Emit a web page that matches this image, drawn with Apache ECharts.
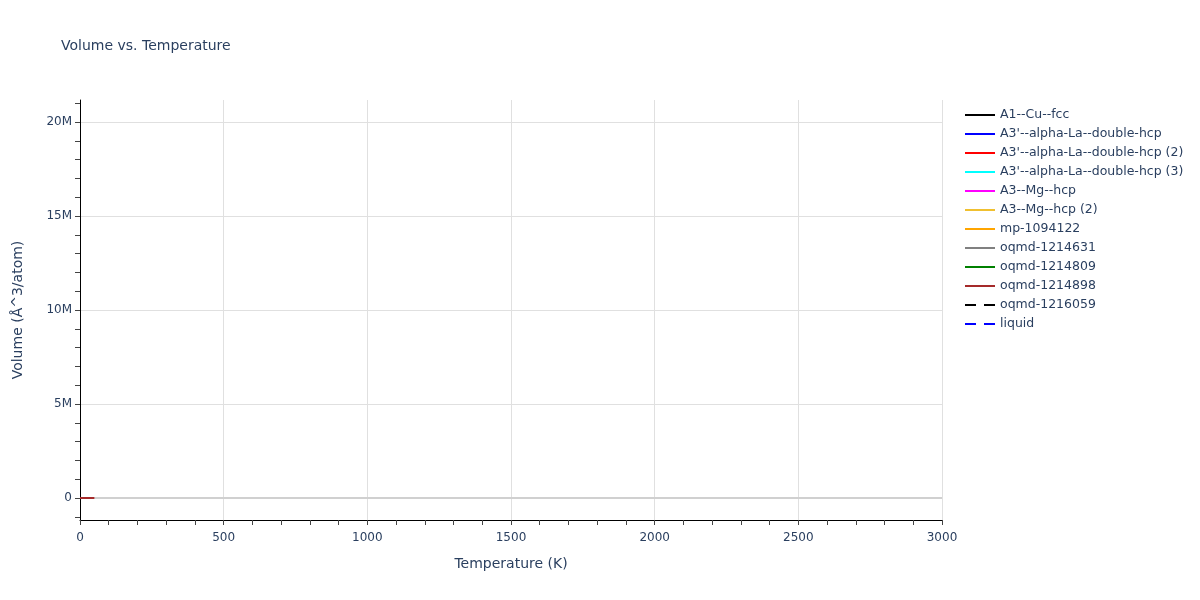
<!DOCTYPE html>
<html>
<head>
<meta charset="utf-8">
<script src="https://cdn.jsdelivr.net/npm/echarts@6/dist/echarts.min.js"></script>
<style>html,body{margin:0;padding:0;background:#fff}#c{width:1200px;height:600px}</style>
</head>
<body>
<div id="c"></div>
<script>
// ---- data ----
const seriesNames = ["A1--Cu--fcc","A3'--alpha-La--double-hcp","A3'--alpha-La--double-hcp (2)","A3'--alpha-La--double-hcp (3)","A3--Mg--hcp","A3--Mg--hcp (2)","mp-1094122","oqmd-1214631","oqmd-1214809","oqmd-1214898","oqmd-1216059","liquid"];
const seriesColors = ["#000000","#0000ff","#ff0000","#00ffff","#ff00ff","#f0c030","#ffa500","#808080","#008000","#a52a2a","#000000","#0000ff"];
const seriesDashed = [false,false,false,false,false,false,false,false,false,false,true,true];
// temperatures (K) sampled in the visible short segment
const temps = [0, 10, 20, 30, 40, 50];
// volumes (Å^3/atom) — all tiny compared with the axis scale
const volA1 = [16.4, 16.4, 16.4, 16.5, 16.5, 16.5];
const volLa1 = [37.2, 37.2, 37.2, 37.3, 37.3, 37.3];
const volLa2 = [36.8, 36.8, 36.8, 36.9, 36.9, 36.9];
const volLa3 = [36.5, 36.5, 36.5, 36.6, 36.6, 36.6];
const volMg1 = [23.1, 23.1, 23.1, 23.2, 23.2, 23.2];
const volMg2 = [23.4, 23.4, 23.4, 23.5, 23.5, 23.5];
const volMp = [30.2, 30.2, 30.2, 30.3, 30.3, 30.3];
const vol631 = [28.7, 28.7, 28.7, 28.8, 28.8, 28.8];
const vol809 = [27.9, 27.9, 27.9, 28.0, 28.0, 28.0];
const vol898 = [29.4, 29.4, 29.4, 29.5, 29.5, 29.5];
const vol059 = [];
const volLiquid = [];
const seriesValues = [volA1, volLa1, volLa2, volLa3, volMg1, volMg2, volMp, vol631, vol809, vol898, vol059, volLiquid];
// axis ranges / ticks
const xTicks = [0, 500, 1000, 1500, 2000, 2500, 3000];
const yTicks = [0, 5e6, 10e6, 15e6, 20e6];
const yMinorTicks = [-1e6, 0, 1e6, 2e6, 3e6, 4e6, 5e6, 6e6, 7e6, 8e6, 9e6, 10e6, 11e6, 12e6, 13e6, 14e6, 15e6, 16e6, 17e6, 18e6, 19e6, 20e6, 21e6];
const yRange = [-1170000, 21170000];

const FONT = "DejaVu Sans, Verdana, sans-serif";
const TXT = "#2a3f5f";
const SOLID_ICON = 'path://M0,0h30v2h-30z';
const DASH_ICON = 'path://M0,0h11v2h-11z M19,0h11v2h-11z';

const series = seriesNames.map((n, i) => {
  const s = {
    name: n,
    type: 'line',
    symbol: 'none',
    showSymbol: false,
    data: seriesValues[i].map((v, k) => [temps[k], v]),
    lineStyle: { color: seriesColors[i], width: 2, type: seriesDashed[i] ? [10, 8] : 'solid' },
    itemStyle: { color: seriesColors[i] },
    z: i === 9 ? 10 : 3,
    animation: false
  };
  if (i === 0) {
    s.markLine = {
      silent: true, symbol: 'none', label: { show: false },
      lineStyle: { color: '#d0d0d0', width: 2, type: 'solid' },
      data: [{ yAxis: 0 }], animation: false
    };
  }
  return s;
});

const chart = echarts.init(document.getElementById('c'), null, { renderer: 'canvas' });
chart.setOption({
  animation: false,
  backgroundColor: '#ffffff',
  textStyle: { fontFamily: FONT },
  title: {
    text: 'Volume vs. Temperature', left: 56, top: 34,
    textStyle: { fontFamily: FONT, fontSize: 14, fontWeight: 'normal', color: TXT }
  },
  legend: {
    orient: 'vertical', left: 960, top: 103,
    itemWidth: 30, itemHeight: 2, itemGap: 5,
    textStyle: { fontFamily: FONT, fontSize: 12.5, color: TXT, lineHeight: 14 },
    data: seriesNames.map((n, i) => ({ name: n, icon: seriesDashed[i] ? DASH_ICON : SOLID_ICON }))
  },
  grid: { left: 80, right: 258, top: 100, bottom: 80, containLabel: false },
  xAxis: {
    type: 'value', min: xTicks[0], max: xTicks[xTicks.length - 1], interval: 500,
    name: 'Temperature (K)', nameLocation: 'middle', nameGap: 37,
    nameTextStyle: { fontFamily: FONT, fontSize: 14, color: TXT },
    axisLine: { show: true, onZero: false, lineStyle: { color: '#000', width: 1 } },
    axisTick: { show: true, inside: false, length: 5, lineStyle: { color: '#444' } },
    minorTick: { show: true, splitNumber: 5, length: 5, lineStyle: { color: '#444' } },
    axisLabel: { fontFamily: FONT, fontSize: 12, color: TXT, margin: 12, formatter: v => String(v) },
    splitLine: { show: true, lineStyle: { color: '#e0e0e0', width: 1 } }
  },
  yAxis: [{
    type: 'value', min: yRange[0], max: yRange[1],
    name: 'Volume (Å^3/atom)', nameLocation: 'middle', nameGap: 55,
    nameTextStyle: { fontFamily: FONT, fontSize: 14, color: TXT },
    axisLine: { show: true, onZero: false, lineStyle: { color: '#000', width: 1 } },
    axisTick: { show: false, customValues: yTicks },
    axisLabel: {
      fontFamily: FONT, fontSize: 12, color: TXT, margin: 8,
      customValues: yTicks,
      formatter: v => (v === 0 ? '0' : (v / 1e6) + 'M')
    },
    splitLine: { show: true, lineStyle: { color: '#e0e0e0', width: 1 } }
  }, {
    type: 'value', min: yRange[0], max: yRange[1], position: 'left',
    axisLine: { show: false, onZero: false },
    axisTick: { show: true, inside: false, length: 5, customValues: yMinorTicks, lineStyle: { color: '#444' } },
    axisLabel: { show: false },
    splitLine: { show: false }
  }],
  series: series
});
</script>
</body>
</html>
